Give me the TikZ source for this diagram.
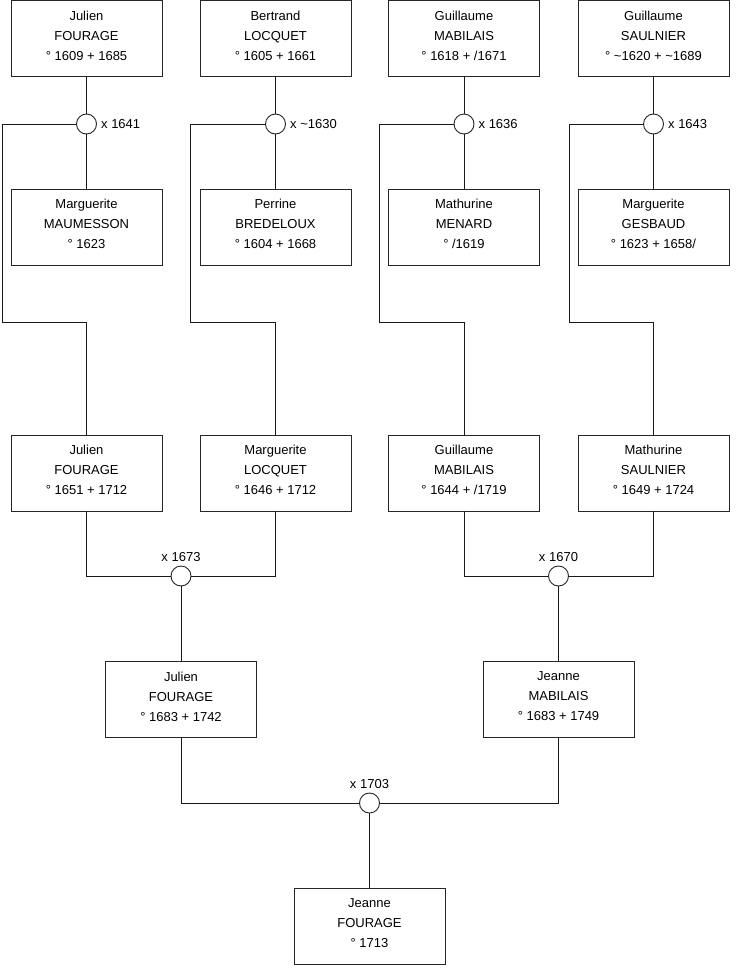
\documentclass[tikz,border=0pt]{standalone}
\usepackage{fontspec}
\setmainfont{Liberation Sans}
\begin{document}
\begin{tikzpicture}[x=1pt,y=-1pt,
  person/.style={draw=black!85, line width=0.9pt, fill=white, rectangle, minimum width=151pt, minimum height=76pt, inner sep=0pt, align=center, font=\fontsize{13}{20}\selectfont, execute at end node={\rule[-6pt]{0pt}{1pt}}},
  union/.style={draw=black!85, line width=0.9pt, fill=white, circle, minimum size=20pt, inner sep=0pt},
  lbl/.style={font=\fontsize{13}{16}\selectfont, inner sep=0pt},
  link/.style={draw=black!90, line width=0.9pt}]
\useasboundingbox[fill=white] (0,0) rectangle (740,975);
% row 1
\node[person] (a1) at (86.5,38.5) {Julien\\FOURAGE\\° 1609 + 1685};
\node[person] (a2) at (275.5,38.5) {Bertrand\\LOCQUET\\° 1605 + 1661};
\node[person] (a3) at (464,38.5) {Guillaume\\MABILAIS\\° 1618 + /1671};
\node[person] (a4) at (653.5,38.5) {Guillaume\\SAULNIER\\° \textasciitilde1620 + \textasciitilde1689};
% row 2
\node[person] (b1) at (86.5,227) {Marguerite\\MAUMESSON\\° 1623};
\node[person] (b2) at (275.5,227) {Perrine\\BREDELOUX\\° 1604 + 1668};
\node[person] (b3) at (464,227) {Mathurine\\MENARD\\° /1619};
\node[person] (b4) at (653.5,227) {Marguerite\\GESBAUD\\° 1623 + 1658/};
% unions row 1
\node[union] (u1) at (86.5,124) {};
\node[union] (u2) at (275.5,124) {};
\node[union] (u3) at (464,124) {};
\node[union] (u4) at (653.5,124) {};
\node[lbl, anchor=west] (l1) at ([xshift=4pt]u1.east) {x 1641};
\node[lbl, anchor=west] (l2) at ([xshift=4pt]u2.east) {x \textasciitilde1630};
\node[lbl, anchor=west] (l3) at ([xshift=4pt]u3.east) {x 1636};
\node[lbl, anchor=west] (l4) at ([xshift=4pt]u4.east) {x 1643};
% row 3
\node[person] (c1) at (86.5,473) {Julien\\FOURAGE\\° 1651 + 1712};
\node[person] (c2) at (275.5,473) {Marguerite\\LOCQUET\\° 1646 + 1712};
\node[person] (c3) at (464,473) {Guillaume\\MABILAIS\\° 1644 + /1719};
\node[person] (c4) at (653.5,473) {Mathurine\\SAULNIER\\° 1649 + 1724};
% unions row 3
\node[union] (v1) at (181,576) {};
\node[union] (v2) at (558.5,576) {};
\node[lbl, anchor=south] (m1) at ([yshift=4pt]v1.north) {x 1673};
\node[lbl, anchor=south] (m2) at ([yshift=4pt]v2.north) {x 1670};
% row 4
\node[person] (d1) at (181,699.5) {Julien\\FOURAGE\\° 1683 + 1742};
\node[person] (d2) at (558.5,699.5) {Jeanne\\MABILAIS\\° 1683 + 1749};
\node[union] (w) at (369.5,803) {};
\node[lbl, anchor=south] (n) at ([yshift=4pt]w.north) {x 1703};
% row 5
\node[person] (e) at (369.5,926) {Jeanne\\FOURAGE\\° 1713};
% connectors
\foreach \i/\lx in {1/2,2/190.5,3/379,4/569.5}{
  \draw[link] (a\i.south) -- (u\i.north);
  \draw[link] (u\i.south) -- (b\i.north);
  \draw[link] (u\i.west) -- (\lx,124) -- (\lx,322) -| (c\i.north);
}
\draw[link] (c1.south) |- (v1.west);
\draw[link] (c2.south) |- (v1.east);
\draw[link] (c3.south) |- (v2.west);
\draw[link] (c4.south) |- (v2.east);
\draw[link] (v1.south) -- (d1.north);
\draw[link] (v2.south) -- (d2.north);
\draw[link] (d1.south) |- (w.west);
\draw[link] (d2.south) |- (w.east);
\draw[link] (w.south) -- (e.north);
\end{tikzpicture}
\end{document}
